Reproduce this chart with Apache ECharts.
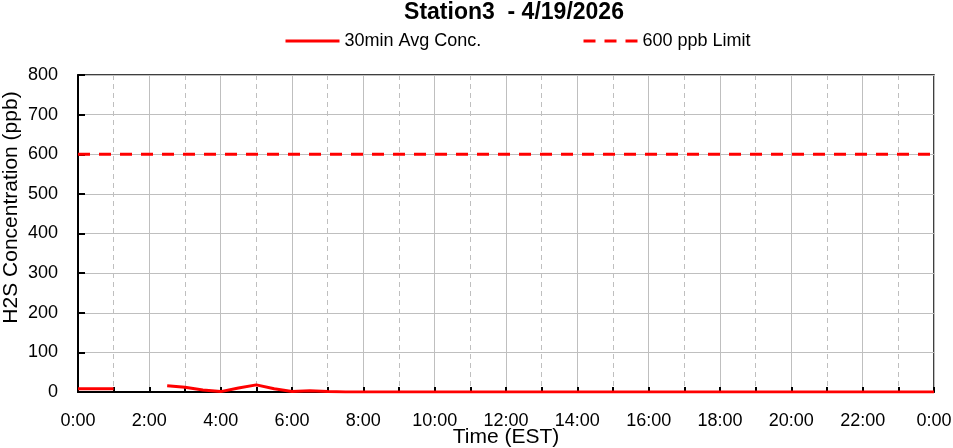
<!DOCTYPE html>
<html><head><meta charset="utf-8">
<script src="https://cdn.jsdelivr.net/npm/echarts@6/dist/echarts.min.js"></script>
<style>html,body{margin:0;padding:0;background:#fff}#c{width:953px;height:448px}</style>
</head><body><div id="c"></div>
<script>
var FONT = '"Liberation Sans", Arial, sans-serif';
var titleText = 'Station3  - 4/19/2026';
var seriesNames = ['30min Avg Conc.', '600 ppb Limit'];
var hours = [0,0.5,1,1.5,2,2.5,3,3.5,4,4.5,5,5.5,6,6.5,7,7.5,8,8.5,9,9.5,10,10.5,11,11.5,12,12.5,13,13.5,14,14.5,15,15.5,16,16.5,17,17.5,18,18.5,19,19.5,20,20.5,21,21.5,22,22.5,23,23.5,24];
var conc = [8,8,8,null,null,16,12,5,1,10,18,8,1,3,1,0,0,0,0,0,0,0,0,0,0,0,0,0,0,0,0,0,0,0,0,0,0,0,0,0,0,0,0,0,0,0,0,0,0];
var limitHours = [0, 24];
var limitVals = [600, 600];

var concData = hours.map(function(h,i){return [h, conc[i]];});
var limitData = limitHours.map(function(h,i){return [h, limitVals[i]];});

var chart = echarts.init(document.getElementById('c'));
var legendBase = {top:32,padding:0,itemWidth:54,itemHeight:14,itemGap:6,itemStyle:{opacity:0},lineStyle:{width:3},textStyle:{fontFamily:FONT,fontSize:18,color:'#000'}};
chart.setOption({
  animation:false,
  textStyle:{fontFamily:FONT},
  title:{text:titleText,left:509,textAlign:'center',top:-4,textStyle:{fontFamily:FONT,fontSize:23,fontWeight:'bold',color:'#000'}},
  legend:[
    Object.assign({data:[seriesNames[0]],left:284}, legendBase),
    Object.assign({data:[seriesNames[1]],left:582}, legendBase)
  ],
  grid:{left:78,right:19,top:75,bottom:56,outerBoundsMode:'none',containLabel:false,show:true,borderColor:'#000',borderWidth:1.5,backgroundColor:'transparent'},
  xAxis:{type:'value',min:0,max:24,interval:2,
    name:'Time (EST)',nameLocation:'middle',nameGap:35,nameMoveOverlap:false,nameTextStyle:{fontFamily:FONT,fontSize:21,color:'#000'},
    axisLine:{lineStyle:{color:'#000',width:2}},
    axisTick:{inside:true,length:5,lineStyle:{color:'#000',width:2}},
    minorTick:{show:true,splitNumber:2,length:5,lineStyle:{color:'#000',width:2}},
    splitLine:{show:true,lineStyle:{color:'#bfbfbf',width:1}},
    minorSplitLine:{show:true,lineStyle:{color:'#bfbfbf',width:1,type:[5,4]}},
    axisLabel:{fontFamily:FONT,fontSize:18,color:'#000',margin:20,formatter:function(v){return (Math.round(v)%24)+':00';}}
  },
  yAxis:{type:'value',min:0,max:800,interval:100,
    name:'H2S Concentration (ppb)',nameLocation:'middle',nameGap:56,nameMoveOverlap:false,nameTextStyle:{fontFamily:FONT,fontSize:21,color:'#000',padding:[0,0,0,52]},
    axisLine:{show:true,lineStyle:{color:'#000',width:2}},
    axisTick:{show:true,inside:true,length:7,lineStyle:{color:'#000',width:2}},
    splitLine:{show:true,lineStyle:{color:'#bfbfbf',width:1}},
    axisLabel:{fontFamily:FONT,fontSize:18,color:'#000',margin:20}
  },
  series:[
    {name:seriesNames[0],type:'line',data:concData,showSymbol:false,symbol:'none',connectNulls:false,smooth:false,
      lineStyle:{color:'#ff0000',width:3},itemStyle:{color:'#ff0000'},z:5},
    {name:seriesNames[1],type:'line',data:limitData,showSymbol:false,symbol:'none',
      lineStyle:{color:'#ff0000',width:3,type:[12,9]},itemStyle:{color:'#ff0000'},z:4}
  ]
});
</script></body></html>
